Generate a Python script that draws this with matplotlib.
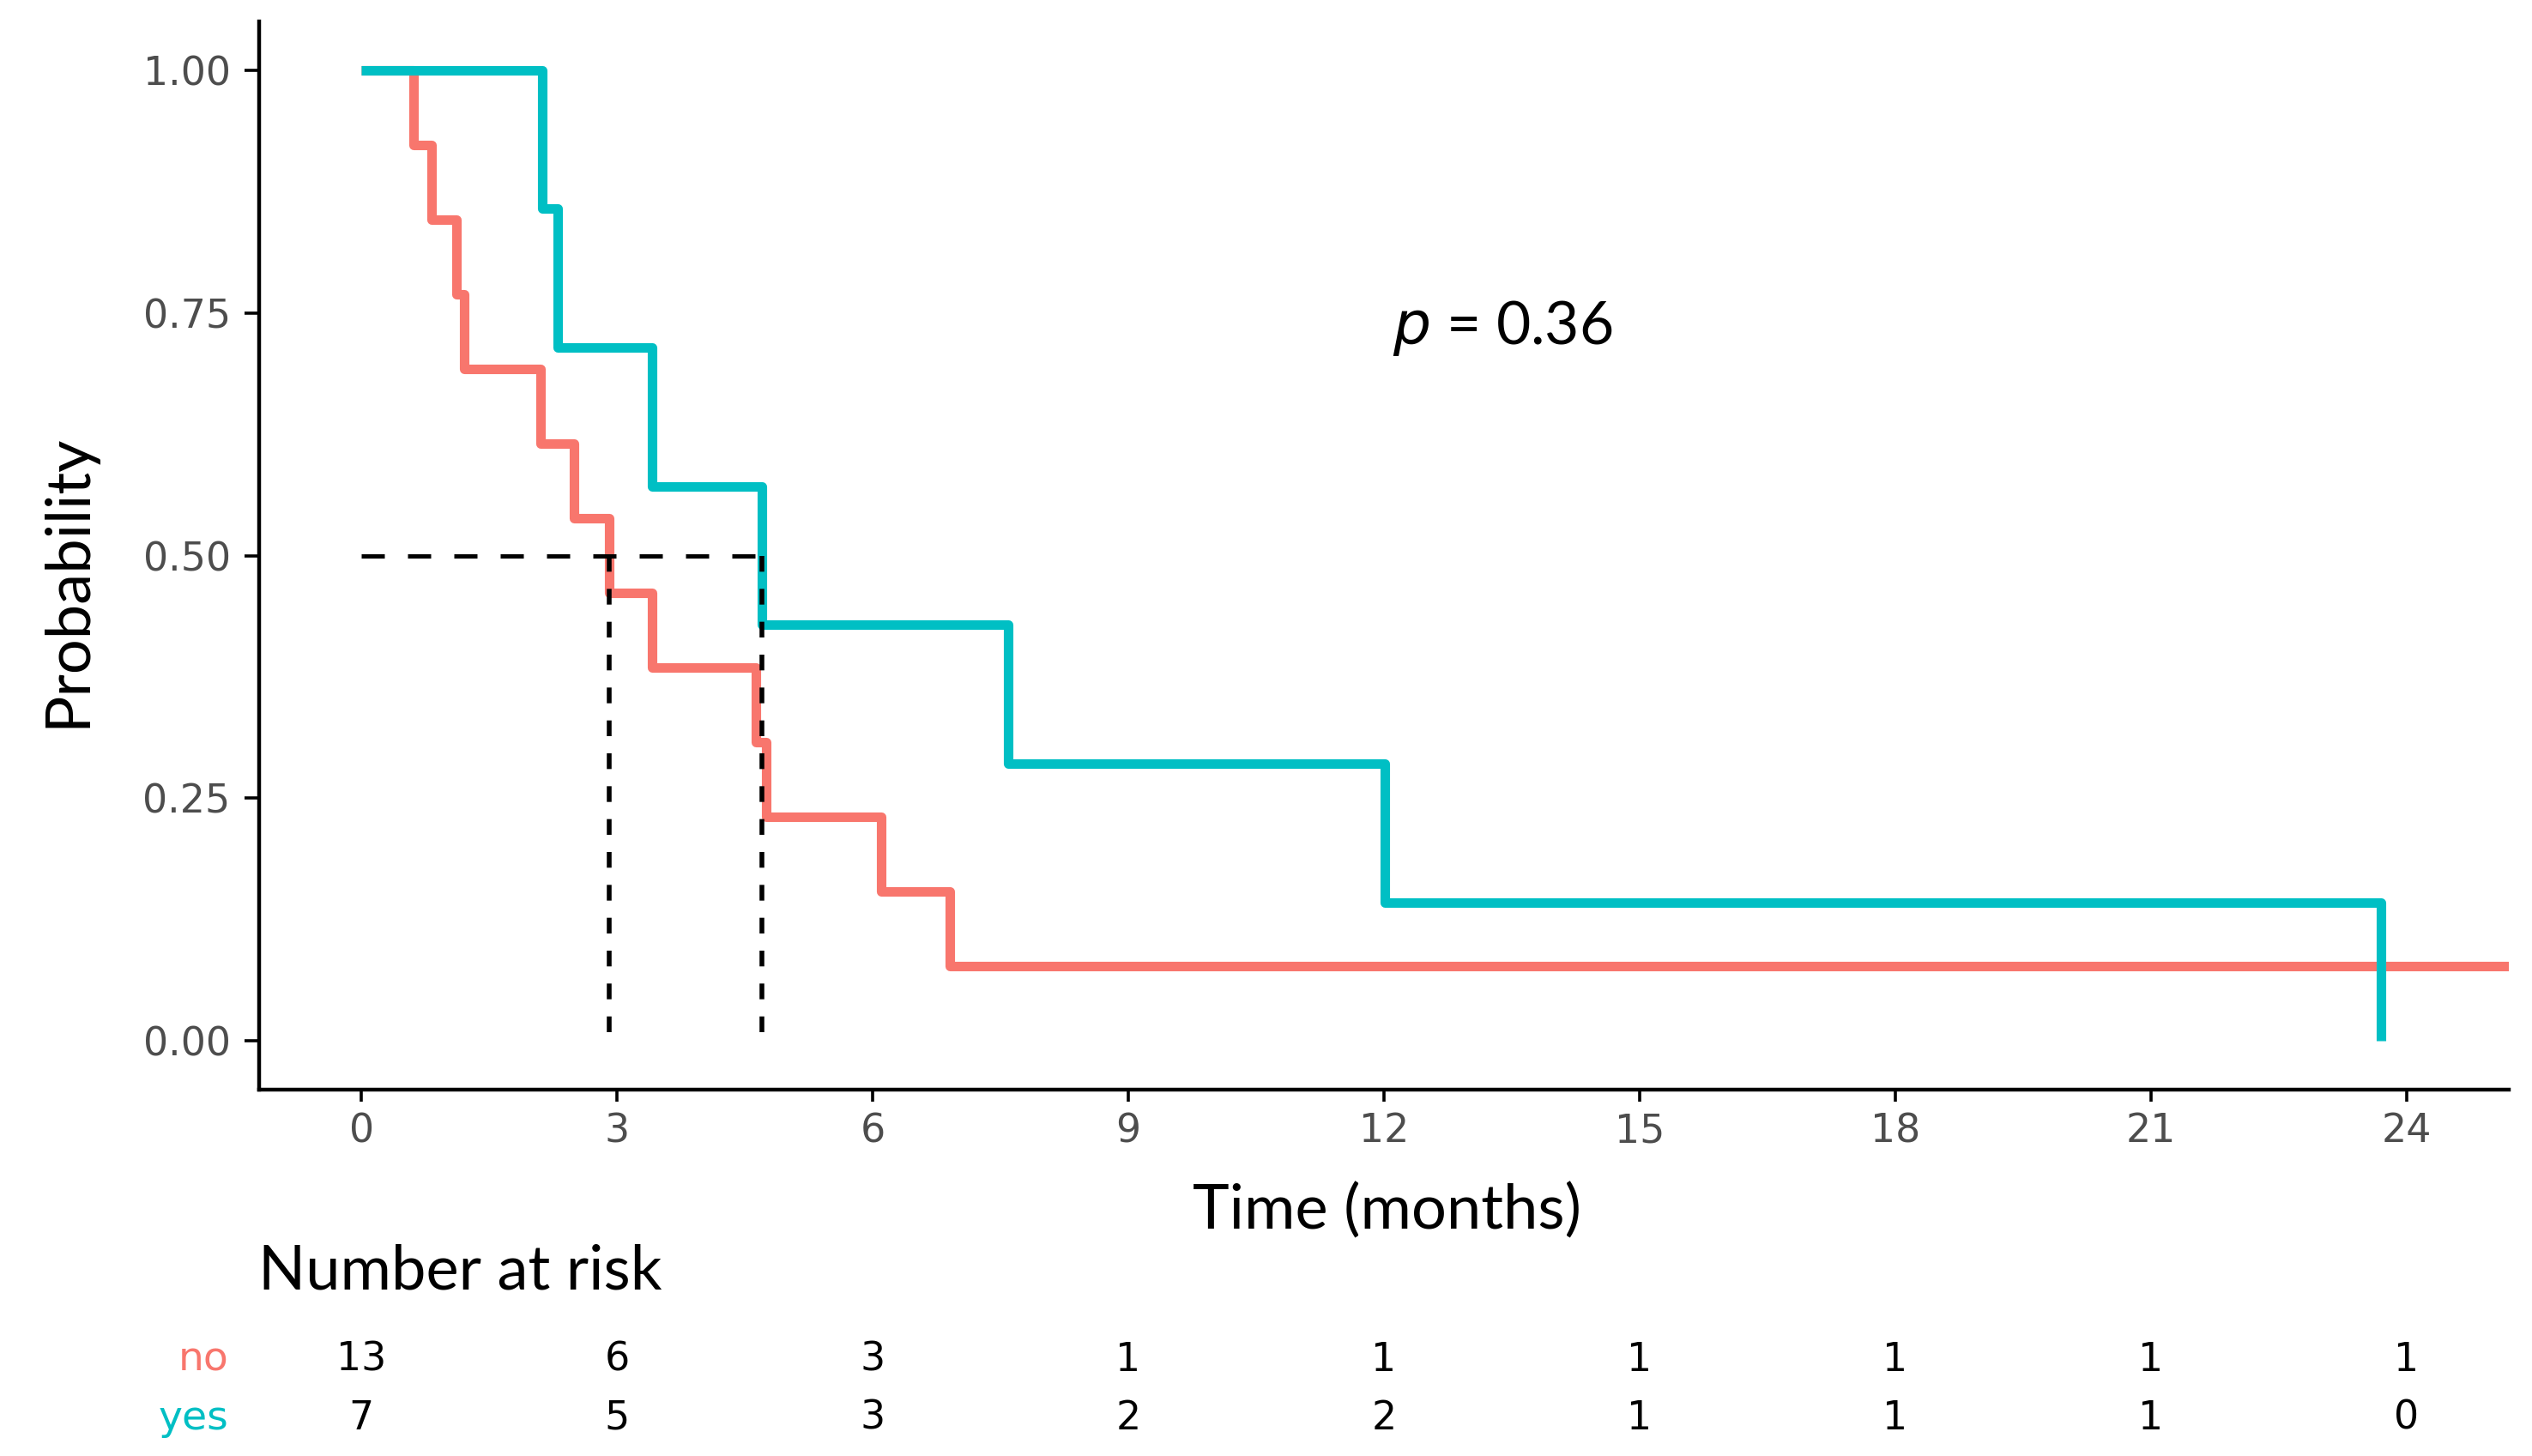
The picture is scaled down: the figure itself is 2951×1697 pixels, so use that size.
import numpy as np
import matplotlib.pyplot as plt
import matplotlib.transforms as mtransforms

# Kaplan-Meier steps
no_times = [0, 0.61, 0.82, 1.12, 1.21, 2.10, 2.50, 2.91, 3.41, 4.63, 4.75, 6.10, 6.91, 25.2]
no_surv = [1.0, 0.923, 0.846, 0.769, 0.692, 0.615, 0.538, 0.462, 0.385, 0.308, 0.231, 0.154, 0.077, 0.077]
yes_times = [0, 2.12, 2.30, 3.41, 4.70, 7.59, 12.01, 23.70]
yes_surv = [1.0, 0.857, 0.714, 0.571, 0.429, 0.286, 0.143, 0.0]

medians = [2.91, 4.70]

risk_times = [0, 3, 6, 9, 12, 15, 18, 21, 24]
risk_no = [13, 6, 3, 1, 1, 1, 1, 1, 1]
risk_yes = [7, 5, 3, 2, 2, 1, 1, 1, 0]

red = "#F8766D"
cyan = "#00BFC4"
title_font = "Lato"
num_font = "DejaVu Sans"

W, H = 2951, 1697
fig = plt.figure(figsize=(W / 200, H / 200), dpi=200)
ax = fig.add_axes([302 / W, 1 - 1270 / H, (2924 - 302) / W, (1270 - 25) / H])

ax.step(no_times, no_surv, where="post", color=red, lw=4.0,
        solid_joinstyle="round", solid_capstyle="butt")
ax.step(yes_times, yes_surv, where="post", color=cyan, lw=4.0,
        solid_joinstyle="round", solid_capstyle="butt")

# median survival lines
ax.plot([0, max(medians)], [0.5, 0.5], color="black", lw=1.8, dashes=(5.4, 5.4))
for m in medians:
    ax.plot([m, m], [0.5, 0], color="black", lw=2.0, dashes=(3.3, 3.6))

ax.set_xlim(-1.2, 25.2)
ax.set_ylim(-0.05, 1.05)
ax.set_xticks(risk_times)
ax.set_yticks([0, 0.25, 0.5, 0.75, 1.0])
ax.set_yticklabels(["0.00", "0.25", "0.50", "0.75", "1.00"])

for s in ["top", "right"]:
    ax.spines[s].set_visible(False)
for s in ["left", "bottom"]:
    ax.spines[s].set_linewidth(1.6)
ax.tick_params(width=1.3, color="black", labelcolor="#4D4D4D", labelsize=16.5)
ax.tick_params(axis="x", length=5, pad=4.5)
ax.tick_params(axis="y", length=6, pad=6)
for lab in ax.get_xticklabels() + ax.get_yticklabels():
    lab.set_family(num_font)

fig.text(79 / W, 1 - 677 / H, "Probability", fontsize=26, family=title_font,
         rotation=90, ha="center", va="center")
fig.text(1616 / W, 1 - 1411 / H, "Time (months)", fontsize=26, family=title_font,
         ha="center", va="center")

ax.text(12.1, 0.734, "$p$ = 0.36", fontsize=25, family=title_font,
        va="center", ha="left")

# number at risk table
trans = mtransforms.blended_transform_factory(ax.transData, fig.transFigure)
fig.text(301 / W, 1 - 1482 / H, "Number at risk", fontsize=26,
         family=title_font, va="center", ha="left")
row_y = [1 - 1585 / H, 1 - 1653 / H]
for y, lab, col, vals in zip(row_y, ["no", "yes"], [red, cyan], [risk_no, risk_yes]):
    fig.text(266 / W, y, lab, color=col, fontsize=17, family=num_font,
             ha="right", va="center")
    for t, v in zip(risk_times, vals):
        ax.text(t, y, str(v), transform=trans, fontsize=16.5, family=num_font,
                ha="center", va="center", clip_on=False)

fig.savefig("out.png", dpi=200)
